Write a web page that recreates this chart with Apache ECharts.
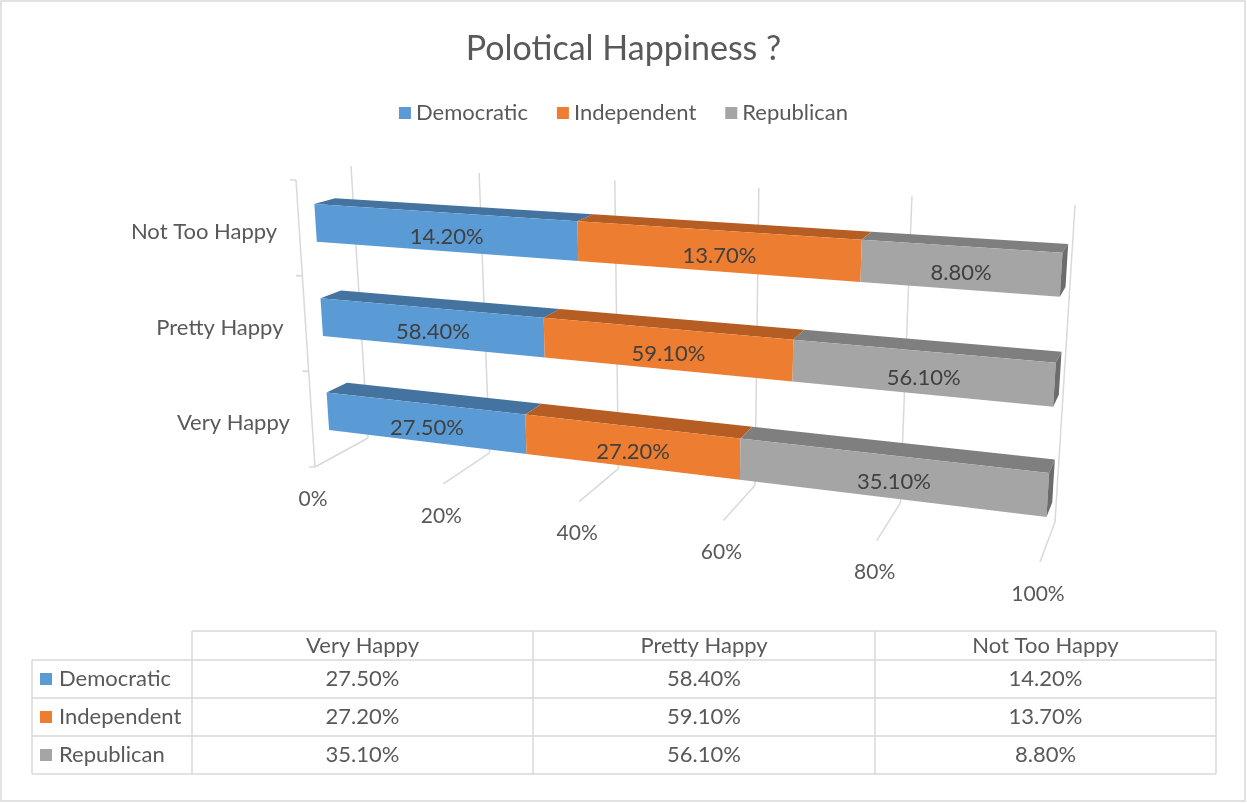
<!DOCTYPE html>
<html>
<head>
<meta charset="utf-8">
<title>Polotical Happiness ?</title>
<script src="https://cdn.jsdelivr.net/npm/echarts@6/dist/echarts.min.js"></script>
<style>
html, body { margin: 0; padding: 0; background: #fff; }
#main { width: 1247px; height: 803px; }
</style>
</head>
<body>
<div id="main"></div>
<script>
// data
var categories = ['Very Happy', 'Pretty Happy', 'Not Too Happy'];
var seriesNames = ['Democratic', 'Independent', 'Republican'];
var democratic = [27.5, 58.4, 14.2];
var independent = [27.2, 59.1, 13.7];
var republican = [35.1, 56.1, 8.8];
var axisTicks = [0, 20, 40, 60, 80, 100];
var axisTickLabels = ['0%', '20%', '40%', '60%', '80%', '100%'];

var values = [democratic, independent, republican];
var colors = ['#5b9bd5', '#ed7d31', '#a5a5a5'];
var topColors = ['#44739f', '#b55d22', '#7f7f7f'];
var sideColor = '#6c6c6c';
var gridColor = '#d9d9d9';
var font = 'Lato';

// screen corners of the 3D box (u = value, v = category, w = depth)
var P000 = [315, 467], P010 = [296, 180], P001 = [368, 438], P011 = [351, 166];
var P100 = [1040, 562], P110 = [1060, 226], P101 = [1055, 522], P111 = [1075, 205];
var persp = 0.86;   // foreshortening along the value axis
var W0 = 0.3, W1 = 0.68;   // bar depth

function lerp(a, b, t) {
  return [a[0] + (b[0] - a[0]) * t, a[1] + (b[1] - a[1]) * t];
}
function proj(u, v, w) {
  var s = persp * u / (1 + (persp - 1) * u);
  var a = lerp(P000, P100, s), b = lerp(P010, P110, s);
  var c = lerp(P001, P101, s), d = lerp(P011, P111, s);
  return lerp(lerp(a, b, v), lerp(c, d, v), w);
}
function uOf(params, p) { return (p[0] - params.coordSys.x) / params.coordSys.width; }
function vOf(params, p) { return 1 - (p[1] - params.coordSys.y) / params.coordSys.height; }

// 100% stacking per category
var totals = categories.map(function (c, i) {
  return democratic[i] + independent[i] + republican[i];
});
function stackData(k) {
  return categories.map(function (c, i) {
    var start = 0;
    for (var j = 0; j < k; j++) start += values[j][i] / totals[i] * 100;
    var end = start + values[k][i] / totals[i] * 100;
    return [start, end, i, values[k][i]];
  });
}

function renderBar(params, api) {
  var k = params.seriesIndex - 2;
  var p0 = api.coord([api.value(0), api.value(2)]);
  var p1 = api.coord([api.value(1), api.value(2)]);
  var u0 = uOf(params, p0), u1 = uOf(params, p1);
  var vc = vOf(params, p0);
  var half = api.size([0, 1])[1] / params.coordSys.height * 0.2;
  var vb = vc - half, vt = vc + half;
  var front = [proj(u0, vb, W0), proj(u1, vb, W0), proj(u1, vt, W0), proj(u0, vt, W0)];
  var top = [proj(u0, vt, W0), proj(u1, vt, W0), proj(u1, vt, W1), proj(u0, vt, W1)];
  var children = [
    { type: 'polygon', shape: { points: top }, style: { fill: topColors[k] } },
    { type: 'polygon', shape: { points: front }, style: { fill: colors[k] } }
  ];
  if (k === values.length - 1) {
    children.push({
      type: 'polygon',
      shape: { points: [proj(u1, vb, W0), proj(u1, vb, W1), proj(u1, vt, W1), proj(u1, vt, W0)] },
      style: { fill: sideColor }
    });
  }
  var a = proj(u0, vc, W0), b = proj(u1, vc, W0);
  children.push({
    type: 'text',
    style: {
      x: (a[0] + b[0]) / 2, y: (a[1] + b[1]) / 2 + 5,
      text: api.value(3).toFixed(2) + '%',
      fill: '#404040', font: '22px ' + font,
      align: 'center', verticalAlign: 'middle'
    }
  });
  return { type: 'group', children: children };
}

function renderValueAxis(params, api) {
  var u = uOf(params, api.coord([api.value(0), 0]));
  var f = proj(u, 0, 0), bb = proj(u, 0, 1), bt = proj(u, 1, 1);
  return {
    type: 'group',
    children: [
      { type: 'line', shape: { x1: bb[0], y1: bb[1], x2: bt[0], y2: bt[1] }, style: { stroke: gridColor, lineWidth: 1.5 } },
      { type: 'line', shape: { x1: f[0], y1: f[1], x2: bb[0], y2: bb[1] }, style: { stroke: gridColor, lineWidth: 1.5 } },
      {
        type: 'text',
        style: {
          x: f[0] - 2, y: f[1] + 32, text: axisTickLabels[params.dataIndex],
          fill: '#595959', font: '21px ' + font, align: 'center', verticalAlign: 'middle'
        }
      }
    ]
  };
}

function renderCategoryAxis(params, api) {
  var p = api.coord([0, api.value(1)]);
  var vc = vOf(params, p);
  var band = api.size([0, 1])[1] / params.coordSys.height;
  var lo = proj(0, vc - band / 2, 0), hi = proj(0, vc + band / 2, 0), mid = proj(0, vc, 0);
  var children = [
    { type: 'line', shape: { x1: lo[0], y1: lo[1], x2: hi[0], y2: hi[1] }, style: { stroke: gridColor, lineWidth: 1.5 } },
    { type: 'line', shape: { x1: lo[0] - 6, y1: lo[1], x2: lo[0], y2: lo[1] }, style: { stroke: gridColor, lineWidth: 1.5 } },
    { type: 'line', shape: { x1: hi[0] - 6, y1: hi[1], x2: hi[0], y2: hi[1] }, style: { stroke: gridColor, lineWidth: 1.5 } },
    {
      type: 'text',
      style: {
        x: mid[0] - 22, y: mid[1] + 4, text: categories[params.dataIndex],
        fill: '#595959', font: '22px ' + font, align: 'right', verticalAlign: 'middle'
      }
    }
  ];
  return { type: 'group', children: children };
}

// data table below the chart
var tableX = [32, 192, 533, 875, 1216];
var tableY = [631, 660, 698, 736, 774];
var graphics = [
  { type: 'rect', shape: { x: 1, y: 1, width: 1244, height: 800 }, style: { fill: 'none', stroke: gridColor, lineWidth: 1.5 } }
];
function hline(x1, x2, y) {
  graphics.push({ type: 'line', shape: { x1: x1, y1: y, x2: x2, y2: y }, style: { stroke: gridColor, lineWidth: 1.5 } });
}
function vline(x, y1, y2) {
  graphics.push({ type: 'line', shape: { x1: x, y1: y1, x2: x, y2: y2 }, style: { stroke: gridColor, lineWidth: 1.5 } });
}
hline(tableX[1], tableX[4], tableY[0]);
for (var r = 1; r < tableY.length; r++) hline(tableX[0], tableX[4], tableY[r]);
vline(tableX[0], tableY[1], tableY[4]);
for (var c = 1; c < tableX.length; c++) vline(tableX[c], tableY[0], tableY[4]);
categories.forEach(function (name, i) {
  graphics.push({
    type: 'text',
    style: {
      x: (tableX[i + 1] + tableX[i + 2]) / 2, y: (tableY[0] + tableY[1]) / 2, text: name,
      fill: '#595959', font: '22px ' + font, align: 'center', verticalAlign: 'middle'
    }
  });
});
seriesNames.forEach(function (name, k) {
  var cy = (tableY[k + 1] + tableY[k + 2]) / 2;
  graphics.push({ type: 'rect', shape: { x: 40, y: cy - 6, width: 12, height: 12 }, style: { fill: colors[k] } });
  graphics.push({
    type: 'text',
    style: { x: 59, y: cy, text: name, fill: '#595959', font: '22px ' + font, align: 'left', verticalAlign: 'middle' }
  });
  values[k].forEach(function (val, i) {
    graphics.push({
      type: 'text',
      style: {
        x: (tableX[i + 1] + tableX[i + 2]) / 2, y: cy, text: val.toFixed(2) + '%',
        fill: '#595959', font: '22px ' + font, align: 'center', verticalAlign: 'middle'
      }
    });
  });
});

var chart = echarts.init(document.getElementById('main'));

var series = [
  {
    type: 'custom', name: 'valueAxis', z: 1, silent: true, clip: false,
    renderItem: renderValueAxis,
    data: axisTicks.map(function (t) { return [t, 0]; }),
    encode: { x: 0, y: 1 }
  },
  {
    type: 'custom', name: 'categoryAxis', z: 1, silent: true, clip: false,
    renderItem: renderCategoryAxis,
    data: categories.map(function (c, i) { return [0, i]; }),
    encode: { x: 0, y: 1 }
  }
];
seriesNames.forEach(function (name, k) {
  series.push({
    type: 'custom', name: name, z: 3, clip: false,
    itemStyle: { color: colors[k] },
    renderItem: renderBar,
    data: stackData(k),
    encode: { x: [0, 1], y: 2 }
  });
});

var option = {
  animation: false,
  textStyle: { fontFamily: font },
  title: {
    text: 'Polotical Happiness ?',
    left: 'center', top: 27,
    textStyle: { fontSize: 34, fontWeight: 'normal', color: '#595959', fontFamily: font }
  },
  legend: {
    data: seriesNames,
    top: 97, left: 'center',
    icon: 'rect', itemWidth: 12, itemHeight: 12, itemGap: 29,
    textStyle: { fontSize: 22, color: '#595959', fontFamily: font }
  },
  grid: { left: 0, top: 0, width: 1000, height: 300, show: false },
  xAxis: { type: 'value', min: 0, max: 100, show: false },
  yAxis: { type: 'category', data: categories, show: false },
  tooltip: { show: false },
  graphic: graphics,
  series: series
};
chart.setOption(option);
</script>
</body>
</html>
